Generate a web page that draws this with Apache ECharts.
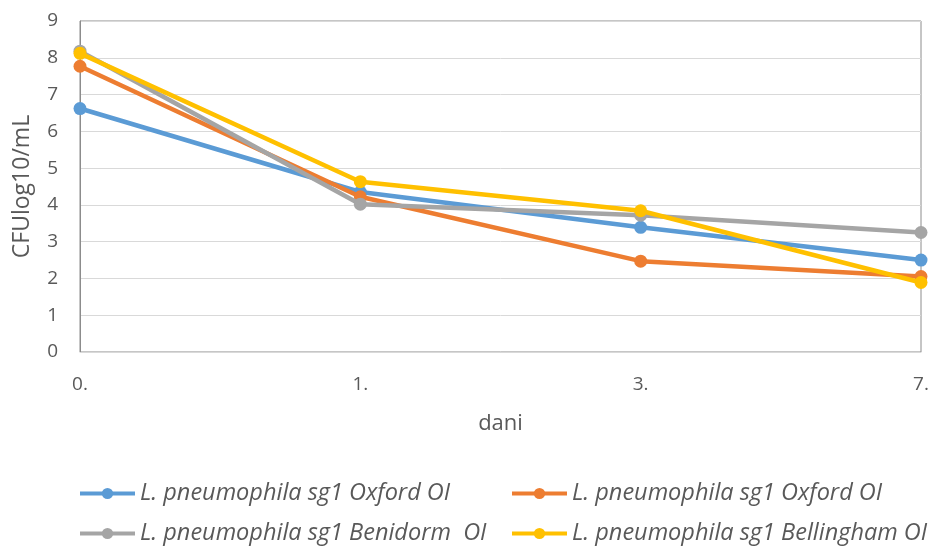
<!DOCTYPE html>
<html><head><meta charset="utf-8">
<script src="https://cdn.jsdelivr.net/npm/echarts@6/dist/echarts.min.js"></script>
<style>html,body{margin:0;padding:0;background:#fff}#c{width:940px;height:548px}</style>
</head><body><div id="c"></div>
<script>
var categories = ['0.', '1.', '3.', '7.'];
var yTicks = [0,1,2,3,4,5,6,7,8,9];
var names = ['L. pneumophila sg1 Oxford OI', 'L. pneumophila sg1 Oxford OI ', 'L. pneumophila sg1 Benidorm  OI', 'L. pneumophila sg1 Bellingham OI'];
var oxfordA = [6.62, 4.35, 3.39, 2.5];
var oxfordB = [7.77, 4.22, 2.47, 2.05];
var benidorm = [8.18, 4.02, 3.72, 3.25];
var bellingham = [8.12, 4.63, 3.84, 1.89];
var colors = ['#5B9BD5', '#ED7D31', '#A5A5A5', '#FFC000'];
var seriesData = [oxfordA, oxfordB, benidorm, bellingham];

var chart = echarts.init(document.getElementById('c'));
var legendText = {fontFamily: 'Open Sans', fontStyle: 'italic', fontSize: 23.5, color: '#595959'};
function lg(name, left, top) {
  return {data: [name], left: left, top: top, padding: 0, itemWidth: 55, itemHeight: 14, itemGap: 0,
          lineStyle: {width: 4}, textStyle: legendText, selectedMode: false};
}
chart.setOption({
  animation: false,
  color: colors,
  grid: {left: 80, right: 19, top: 21, bottom: 196, show: true, borderColor: '#8c8c8c', borderWidth: 1},
  legend: [lg(names[0], 78, 482), lg(names[1], 510, 482), lg(names[2], 78, 522), lg(names[3], 510, 522)],
  xAxis: {
    type: 'category', data: categories, boundaryGap: false,
    name: 'dani', nameLocation: 'middle', nameGap: 61,
    nameTextStyle: {fontFamily: 'Open Sans', fontSize: 22, color: '#595959'},
    axisLine: {lineStyle: {color: '#d9d9d9'}},
    axisTick: {show: false},
    axisLabel: {fontFamily: 'Open Sans', fontSize: 19, color: '#595959', margin: 23},
    splitLine: {show: false}
  },
  yAxis: {
    type: 'value', min: 0, max: 9, interval: 1,
    name: 'CFUlog10/mL', nameLocation: 'middle', nameGap: 46,
    nameTextStyle: {fontFamily: 'Open Sans', fontSize: 23, color: '#595959'},
    axisLine: {show: true, lineStyle: {color: '#8c8c8c'}},
    axisTick: {show: false},
    axisLabel: {fontFamily: 'Open Sans', fontSize: 19, color: '#595959', margin: 22},
    splitLine: {lineStyle: {color: '#d9d9d9'}}
  },
  series: seriesData.map(function (d, i) {
    return {name: names[i], type: 'line', data: d, symbol: 'circle', symbolSize: 13,
            lineStyle: {width: 4.5, color: colors[i]}, itemStyle: {color: colors[i]}, z: 2 + i};
  })
});
</script></body></html>
